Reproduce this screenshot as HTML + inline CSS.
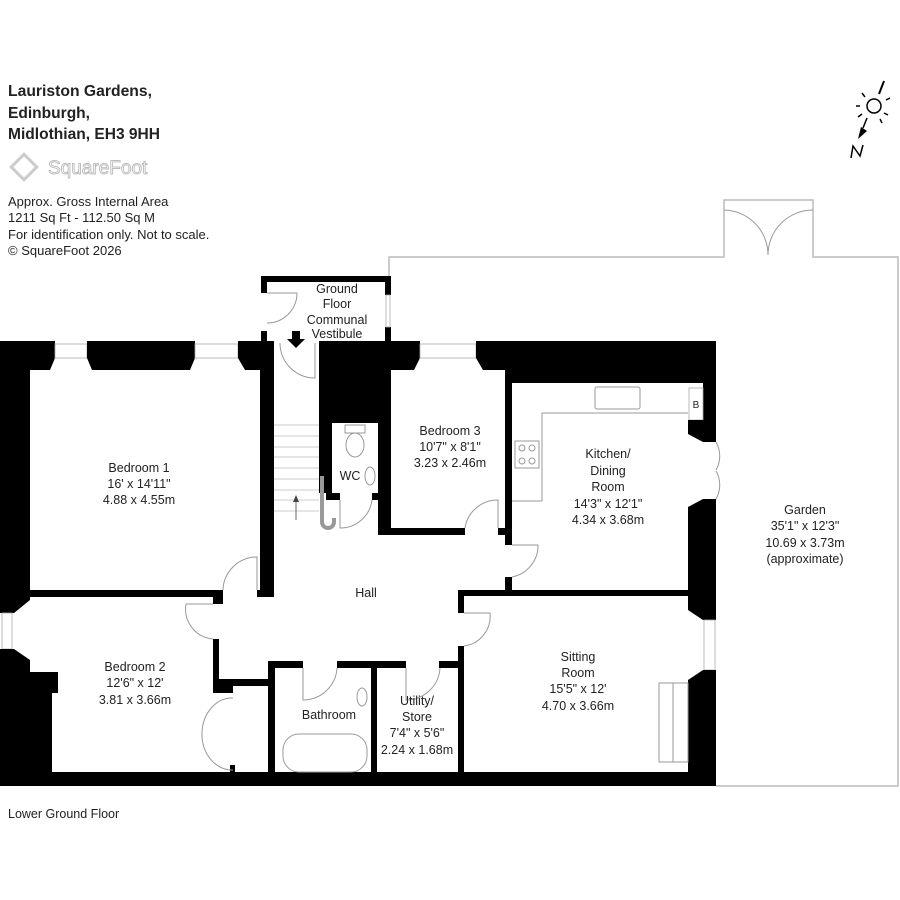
<!DOCTYPE html>
<html><head><meta charset="utf-8"><style>
html,body{margin:0;padding:0;background:#fff;}
svg{display:block;}
text{font-family:"Liberation Sans",Arial,sans-serif;fill:#222;}
.r{font-size:12.5px;text-anchor:middle;}
.d{fill:none;stroke:#999;stroke-width:1;}
.g{fill:none;stroke:#bbb;stroke-width:1.5;}
.w{fill:#000;}
.win{fill:#fff;stroke:#aaa;stroke-width:0.8;}
</style></head><body>
<svg width="900" height="900" viewBox="0 0 900 900" xmlns="http://www.w3.org/2000/svg">
<!-- header -->
<text x="8" y="96" style="font-size:16px;font-weight:bold" textLength="144" lengthAdjust="spacingAndGlyphs">Lauriston Gardens,</text>
<text x="8" y="118" style="font-size:16px;font-weight:bold" textLength="82" lengthAdjust="spacingAndGlyphs">Edinburgh,</text>
<text x="8" y="139" style="font-size:16px;font-weight:bold" textLength="152" lengthAdjust="spacingAndGlyphs">Midlothian, EH3 9HH</text>
<g transform="translate(24,167)" fill="none" stroke="#ccc" stroke-width="3">
<rect x="-9" y="-9" width="18" height="18" transform="rotate(45)"/>
</g>
<text x="48" y="174" style="font-size:19px;fill:#fff;stroke:#bbb;stroke-width:0.9">SquareFoot</text>
<text x="8" y="206" style="font-size:13px">Approx. Gross Internal Area</text>
<text x="8" y="222" style="font-size:13px">1211 Sq Ft  -  112.50 Sq M</text>
<text x="8" y="239" style="font-size:13px">For identification only. Not to scale.</text>
<text x="8" y="255" style="font-size:13px">© SquareFoot 2026</text>
<!-- compass -->
<g stroke="#000" stroke-width="1.5" fill="none">
<circle cx="874" cy="106" r="7"/>
<line x1="879" y1="94" x2="884" y2="81" stroke-width="2"/>
<line x1="865" y1="97" x2="862" y2="93"/><line x1="860" y1="106" x2="856" y2="106"/>
<line x1="862" y1="114" x2="858" y2="117"/><line x1="886" y1="100" x2="890" y2="98"/>
<line x1="884" y1="113" x2="888" y2="115"/><line x1="880" y1="119" x2="882" y2="123"/>
<line x1="867" y1="118" x2="863" y2="128"/>
<path d="M851,158 L853,146 L860,156 L863,145" stroke-width="1.5"/>
</g>
<polygon points="858,139 861,127 867,131" fill="#000"/>
<!-- garden outline -->
<polyline class="g" points="389,327 389,257 724,257 724,200 813,200 813,257 898,257 898,786 716,786"/>
<path class="d" d="M724,210 A45,45 0 0 1 768,255 M813,210 A45,45 0 0 0 768,255"/>
<!-- vestibule walls -->
<rect class="w" x="261" y="276" width="130" height="6"/>
<rect class="w" x="261" y="276" width="6" height="17"/>
<rect class="w" x="261" y="331" width="6" height="10"/>
<rect class="w" x="385" y="276" width="6" height="19"/>
<rect class="w" x="385" y="327" width="6" height="14"/>
<rect class="win" x="386" y="295" width="4" height="32"/>
<path class="d" d="M267,293 L297,293 A30,30 0 0 1 267,323"/>
<polygon points="292,331 300,331 300,339 305,339 296,348 287,339 292,339" fill="#000"/>
<!-- top wall -->
<polygon class="w" points="0,341 55,341 55,358 50,370 0,370"/>
<rect class="win" x="55" y="344" width="32" height="14"/>
<polygon class="w" points="87,341 195,341 195,358 190,370 92,370 87,358"/>
<rect class="win" x="195" y="344" width="43" height="14"/>
<polygon class="w" points="238,341 274,341 274,370 245,370 238,358"/>
<rect class="w" x="319" y="341" width="71" height="82"/>
<polygon class="w" points="390,341 420,341 420,358 414,370 390,370"/>
<rect class="win" x="420" y="344" width="56" height="14"/>
<polygon class="w" points="476,341 716,341 716,383 512,383 512,370 483,370 476,358"/>
<!-- left wall -->
<polygon class="w" points="0,341 30,341 30,600 14,613 0,613"/>
<rect class="win" x="2" y="613" width="10" height="36"/>
<polygon class="w" points="0,649 14,649 30,660 30,672 58,672 58,693 52,693 52,786 0,786"/>
<!-- bottom wall -->
<rect class="w" x="0" y="772" width="716" height="14"/>
<!-- bedroom 1 right wall -->
<rect class="w" x="260" y="341" width="14" height="256"/>
<rect class="w" x="30" y="590" width="193" height="7"/>
<rect class="w" x="213" y="597" width="10" height="7"/>
<rect class="w" x="257" y="590" width="17" height="7"/>
<!-- bed2 right -->
<rect class="w" x="213" y="639" width="6" height="54"/>
<rect class="w" x="213" y="679" width="62" height="7"/>
<rect class="w" x="213" y="686" width="20" height="7"/>
<rect class="w" x="230" y="765" width="5" height="7"/>
<!-- bathroom/utility -->
<rect class="w" x="268" y="661" width="7" height="125"/>
<rect class="w" x="268" y="661" width="35" height="7"/>
<rect class="w" x="337" y="661" width="69" height="7"/>
<rect class="w" x="439" y="661" width="25" height="7"/>
<rect class="w" x="371" y="661" width="6" height="125"/>
<rect class="w" x="458" y="646" width="6" height="140"/>
<rect class="w" x="458" y="590" width="6" height="23"/>
<rect class="w" x="458" y="590" width="230" height="6"/>
<!-- kitchen left wall -->
<rect class="w" x="505" y="370" width="7" height="175"/>
<rect class="w" x="505" y="577" width="7" height="19"/>
<!-- WC / bed3 -->
<rect class="w" x="319" y="423" width="13" height="70"/>
<rect class="w" x="326" y="493" width="14" height="7"/>
<rect class="w" x="372" y="493" width="6" height="7"/>
<rect class="w" x="378" y="370" width="13" height="165"/>
<rect class="w" x="378" y="528" width="87" height="7"/>
<rect class="w" x="498" y="528" width="14" height="7"/>
<!-- right wall -->
<rect class="w" x="703" y="341" width="13" height="101"/>
<rect class="win" x="689" y="388" width="14" height="32"/>
<text x="696" y="408" style="font-size:10px;text-anchor:middle">B</text>
<polygon class="w" points="688,420 716,420 716,442 703,442 688,434"/>
<polygon class="w" points="703,499 716,499 716,620 703,620 688,610 688,507"/>
<rect class="win" x="704" y="620" width="11" height="50"/>
<polygon class="w" points="703,670 716,670 716,786 688,786 688,680"/>
<path class="d" d="M716,442 A28,28 0 0 1 716,470 M716,499 A28,28 0 0 0 716,471"/>
<!-- stairs -->
<g stroke="#bbb" stroke-width="0.8">
<line x1="274" y1="425" x2="319" y2="425"/><line x1="274" y1="436" x2="319" y2="436"/>
<line x1="274" y1="447" x2="319" y2="447"/><line x1="274" y1="457" x2="319" y2="457"/>
<line x1="274" y1="468" x2="319" y2="468"/><line x1="274" y1="479" x2="319" y2="479"/>
<line x1="274" y1="490" x2="319" y2="490"/><line x1="274" y1="500" x2="319" y2="500"/>
<line x1="274" y1="511" x2="319" y2="511"/>
</g>
<line x1="296" y1="520" x2="296" y2="500" stroke="#444" stroke-width="0.8"/>
<polygon points="293,502 299,502 296,495" fill="#444"/>
<path d="M322,476 L322,522 A6,6 0 0 0 334,522 L334,518" fill="none" stroke="#999" stroke-width="4"/>
<!-- fixtures -->
<ellipse cx="355" cy="445" rx="9" ry="12" class="d"/><rect class="d" x="345" y="425" width="20" height="8"/>
<ellipse cx="370" cy="476" rx="5" ry="9" class="d"/>
<rect class="d" x="283" y="734" width="84" height="38" rx="16"/>
<ellipse cx="362" cy="697" rx="5" ry="9" class="d"/>
<path class="d" d="M542,501 L542,413 L688,413 M512,501 L542,501"/>
<rect class="d" x="595" y="387" width="45" height="22" rx="2"/>
<rect class="d" x="515" y="441" width="24" height="27"/>
<circle class="d" cx="522" cy="448" r="3"/><circle class="d" cx="532" cy="448" r="3"/>
<circle class="d" cx="522" cy="461" r="3"/><circle class="d" cx="532" cy="461" r="3"/>
<rect class="d" x="659" y="683" width="29" height="79"/><line class="d" x1="673" y1="683" x2="673" y2="762"/>
<!-- doors -->
<path class="d" d="M315,343 L315,378 A35,35 0 0 1 280,343"/>
<path class="d" d="M340,500 L340,528 A32,32 0 0 0 372,500"/>
<path class="d" d="M465,528 A33,33 0 0 1 498,500 L498,528"/>
<path class="d" d="M512,577 A32,32 0 0 0 538,545 L512,545"/>
<path class="d" d="M223,590 A34,34 0 0 1 257,557 L257,590"/>
<path class="d" d="M213,604 L186,604 A30,30 0 0 0 213,639"/>
<path class="d" d="M464,613 L490,613 A30,30 0 0 1 464,646"/>
<path class="d" d="M303,668 L303,700 A34,34 0 0 0 337,668"/>
<path class="d" d="M406,668 L406,700 A34,34 0 0 0 440,668"/>
<path class="d" d="M233,698 A30,36 0 0 0 202,733 A30,36 0 0 0 233,770"/>
<!-- labels -->
<text class="r" x="337" y="293">Ground</text><text class="r" x="337" y="308">Floor</text>
<text class="r" x="337" y="324">Communal</text><text class="r" x="337" y="338">Vestibule</text>
<text class="r" x="139" y="472">Bedroom 1</text><text class="r" x="139" y="488">16' x 14'11"</text><text class="r" x="139" y="504">4.88 x 4.55m</text>
<text class="r" x="135" y="671">Bedroom 2</text><text class="r" x="135" y="687">12'6" x 12'</text><text class="r" x="135" y="704">3.81 x 3.66m</text>
<text class="r" x="450" y="435">Bedroom 3</text><text class="r" x="450" y="451">10'7" x 8'1"</text><text class="r" x="450" y="467">3.23 x 2.46m</text>
<text class="r" x="350" y="480">WC</text>
<text class="r" x="366" y="597">Hall</text>
<text class="r" x="608" y="458">Kitchen/</text><text class="r" x="608" y="475">Dining</text><text class="r" x="608" y="491">Room</text>
<text class="r" x="608" y="508">14'3" x 12'1"</text><text class="r" x="608" y="524">4.34 x 3.68m</text>
<text class="r" x="805" y="514">Garden</text><text class="r" x="805" y="530">35'1" x 12'3"</text>
<text class="r" x="805" y="547">10.69 x 3.73m</text><text class="r" x="805" y="563">(approximate)</text>
<text class="r" x="578" y="661">Sitting</text><text class="r" x="578" y="677">Room</text>
<text class="r" x="578" y="693">15'5" x 12'</text><text class="r" x="578" y="710">4.70 x 3.66m</text>
<text class="r" x="329" y="719">Bathroom</text>
<text class="r" x="417" y="705">Utility/</text><text class="r" x="417" y="721">Store</text>
<text class="r" x="417" y="737">7'4" x 5'6"</text><text class="r" x="417" y="754">2.24 x 1.68m</text>
<text x="8" y="818" style="font-size:12.5px">Lower Ground Floor</text>
</svg>
</body></html>
